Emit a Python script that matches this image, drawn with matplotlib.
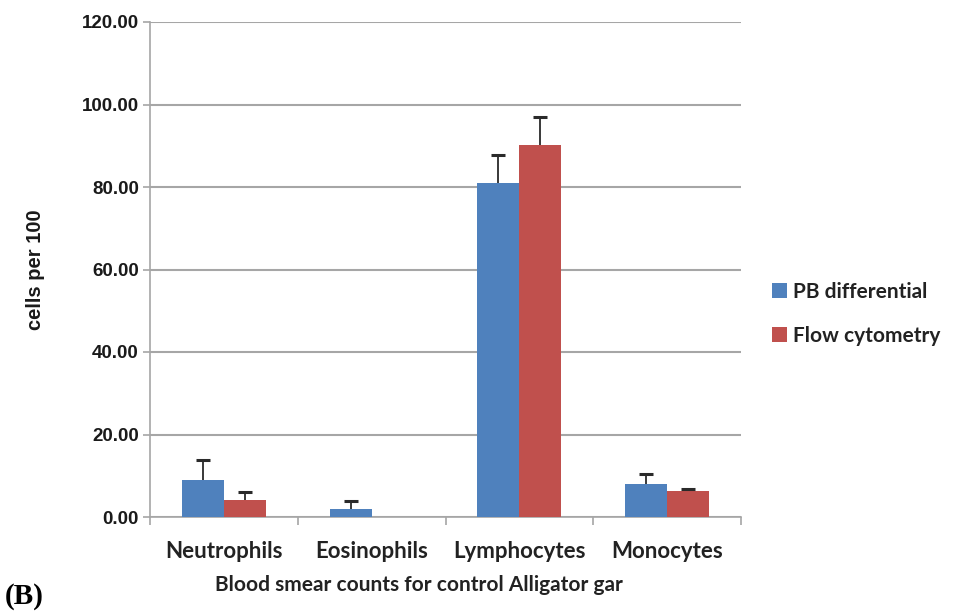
import matplotlib
matplotlib.use("Agg")
import matplotlib.pyplot as plt
import numpy as np

categories = ["Neutrophils", "Eosinophils", "Lymphocytes", "Monocytes"]
pb_diff = [9.0, 1.9, 81.0, 8.0]
pb_err = [4.8, 2.0, 6.8, 2.4]
flow_cyto = [4.1, 0.0, 90.2, 6.3]
flow_err = [2.0, 0.0, 6.8, 0.5]
yticks = [0, 20, 40, 60, 80, 100, 120]

blue = "#4F81BD"
red = "#C0504D"
grid_c = "#A6A6A6"
arial = "Liberation Sans"
calibri = "Lato"

fig = plt.figure(figsize=(9.59, 6.12), dpi=100)
ax = fig.add_axes([150 / 959, 95 / 612, 591 / 959, 495 / 612])

x = np.arange(len(categories))
w = 0.284
ax.bar(x - w / 2, pb_diff, w, color=blue, label="PB differential", zorder=3)
ax.bar(x + w / 2, flow_cyto, w, color=red, label="Flow cytometry", zorder=3)


def upper_errors(xpos, vals, errs):
    xpos, vals, errs = map(np.asarray, (xpos, vals, errs))
    keep = errs > 0
    _, caps, _ = ax.errorbar(xpos[keep], vals[keep],
                             yerr=[np.zeros(keep.sum()), errs[keep]],
                             fmt="none", ecolor="#2a2a2a", elinewidth=1.3,
                             capsize=5, capthick=2.2, zorder=4)
    caps[0].set_visible(False)  # drop the lower cap


upper_errors(x - w / 2, pb_diff, pb_err)
upper_errors(x + w / 2, flow_cyto, flow_err)

ax.set_xlim(-0.5, len(categories) - 0.5)
ax.set_ylim(0, 120)
ax.set_yticks(yticks)
ax.set_yticklabels([f"{v:.2f}" for v in yticks], fontweight="bold",
                   fontsize=13.5, family=arial, color="#1a1a1a")
ax.yaxis.grid(True, color=grid_c, lw=1.5, zorder=0)
ax.set_axisbelow(True)

ax.set_xticks(np.arange(-0.5, len(categories), 1.0))
ax.set_xticklabels([])
ax.set_xticks(x, minor=True)
ax.set_xticklabels(categories, minor=True, fontsize=16, fontweight="bold",
                   family=calibri, color="#222222")
ax.tick_params(axis="x", which="minor", length=0, pad=17)
ax.tick_params(axis="x", which="major", length=6, color=grid_c, width=1.2)
ax.tick_params(axis="y", length=5, color=grid_c, width=1.2, pad=3)

for s in ["top", "right"]:
    ax.spines[s].set_visible(False)
for s in ["left", "bottom"]:
    ax.spines[s].set_color(grid_c)
    ax.spines[s].set_linewidth(1.2)

ax.set_ylabel("cells per 100", fontweight="bold", fontsize=14.5, family=arial,
              color="#1a1a1a")
ax.yaxis.set_label_coords(-0.178, 0.5)
ax.set_xlabel("Blood smear counts for control Alligator gar", fontweight="bold",
              fontsize=15, family=calibri, color="#222222")
ax.xaxis.set_label_coords(0.455, -0.118)

leg = ax.legend(loc="center left", bbox_to_anchor=(1.02, 0.41), frameon=False,
                prop=dict(family=calibri, weight="bold", size=15),
                handlelength=0.75, handleheight=0.75, labelspacing=1.15,
                handletextpad=0.3)
for t in leg.get_texts():
    t.set_color("#222222")

fig.text(5 / 959, 2 / 612, "(B)", fontsize=21, fontweight="bold",
         family="Liberation Serif", va="bottom", ha="left")

fig.savefig("out.png", dpi=100)
